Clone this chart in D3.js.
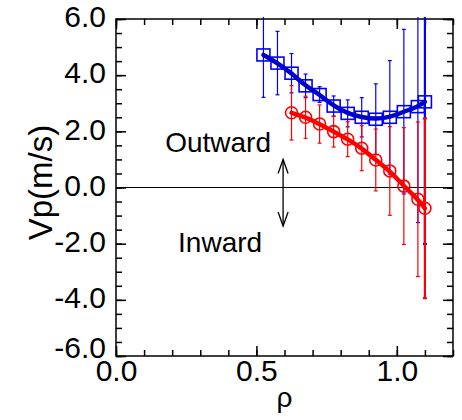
<!DOCTYPE html>
<html lang="en">
<head>
<meta charset="UTF-8">
<title>Vp profile</title>
<script src="https://cdnjs.cloudflare.com/ajax/libs/d3/7.8.5/d3.min.js"></script>
<style>
    body, html {
        margin: 0;
        padding: 0;
        background: #fff;
        overflow: hidden;
    }
    svg text {
        font-family: "Liberation Sans", Arial, sans-serif;
        fill: #000;
    }
</style>
</head>
<body>
<div id="chart"></div>
<script>
    // outward-shifted profile (blue squares)
    const blueX   = [0.525, 0.575, 0.625, 0.675, 0.725, 0.775, 0.825, 0.875, 0.925, 0.975, 1.025, 1.075, 1.10];
    const blueY   = [4.72, 4.43, 4.07, 3.62, 3.31, 2.90, 2.64, 2.50, 2.43, 2.50, 2.70, 2.88, 3.05];
    const blueErr = [1.51, 1.13, 0.70, 0.42, 0.28, 0.36, 0.48, 0.70, 1.26, 2.02, 2.93, 4.13, 5.06];

    // red circles
    const redX   = [0.625, 0.675, 0.725, 0.775, 0.825, 0.875, 0.925, 0.975, 1.025, 1.075, 1.10];
    const redY   = [2.66, 2.50, 2.26, 1.99, 1.72, 1.40, 0.98, 0.59, 0.05, -0.42, -0.74];
    const redErr = [0.97, 0.75, 0.68, 0.55, 0.62, 0.80, 1.10, 1.58, 2.08, 2.75, 3.20];

    const xMajor = [0.0, 0.5, 1.0];
    const yMajor = [-6, -4, -2, 0, 2, 4, 6];

    const width = 462, height = 420;
    const margin = {top: 19, right: 9, bottom: 64, left: 116};

    const x = d3.scaleLinear().domain([0, 1.2]).range([margin.left, width - margin.right]);
    const y = d3.scaleLinear().domain([-6, 6]).range([height - margin.bottom, margin.top]);

    const xMinor = d3.range(0, 1.2001, 0.1).map(v => +v.toFixed(2));
    const yMinor = d3.range(-6, 6.001, 0.5);

    const svg = d3.select("#chart").append("svg")
        .attr("width", width)
        .attr("height", height);

    svg.append("defs").append("clipPath").attr("id", "plot")
        .append("rect")
        .attr("x", x(0)).attr("y", y(6) - 2)
        .attr("width", x(1.2) - x(0)).attr("height", y(-6) - y(6) + 2);

    const fmt = d => d.toFixed(1);

    // axes, ticks pointing inward on all four sides
    function addAxis(axis, tx, ty) {
        const g = svg.append("g").attr("transform", `translate(${tx},${ty})`).call(axis);
        g.select(".domain").remove();
        g.selectAll("line").attr("stroke", "#000").attr("stroke-width", 1.5);
        return g;
    }

    const H = height - margin.bottom, W = width - margin.right;

    addAxis(d3.axisBottom(x).tickValues(xMinor).tickSize(-6).tickFormat(""), 0, H);
    const xAx = addAxis(d3.axisBottom(x).tickValues(xMajor).tickSizeInner(-10).tickSizeOuter(0)
        .tickPadding(4).tickFormat(fmt), 0, H);
    xAx.selectAll("text").style("font-size", "30px");

    addAxis(d3.axisTop(x).tickValues(xMinor).tickSize(-6).tickFormat(""), 0, margin.top);
    addAxis(d3.axisTop(x).tickValues(xMajor).tickSize(-10).tickFormat(""), 0, margin.top);

    addAxis(d3.axisLeft(y).tickValues(yMinor).tickSize(-6).tickFormat(""), margin.left, 0);
    const yAx = addAxis(d3.axisLeft(y).tickValues(yMajor).tickSizeInner(-10).tickSizeOuter(0)
        .tickPadding(10).tickFormat(fmt), margin.left, 0);
    yAx.selectAll("text")
        .style("font-size", "30px")
        .attr("dy", d => d === -6 ? "0.04em" : "0.26em");

    addAxis(d3.axisRight(y).tickValues(yMinor).tickSize(-6).tickFormat(""), W, 0);
    addAxis(d3.axisRight(y).tickValues(yMajor).tickSize(-10).tickFormat(""), W, 0);

    svg.append("rect")
        .attr("x", x(0)).attr("y", y(6))
        .attr("width", x(1.2) - x(0)).attr("height", y(-6) - y(6))
        .attr("fill", "none").attr("stroke", "#000").attr("stroke-width", 1.5);

    // zero line
    svg.append("line")
        .attr("x1", x(0)).attr("x2", x(1.2))
        .attr("y1", y(0)).attr("y2", y(0))
        .attr("stroke", "#000").attr("stroke-width", 1.2);

    // axis titles
    svg.append("text")
        .attr("transform", `translate(52,${(y(6) + y(-6)) / 2 - 5}) rotate(-90)`)
        .attr("text-anchor", "middle")
        .style("font-size", "33px")
        .text("Vp(m/s)");

    svg.append("text")
        .attr("x", (x(0) + x(1.2)) / 2)
        .attr("y", 407)
        .attr("text-anchor", "middle")
        .style("font-size", "28px")
        .text("ρ");

    // annotations
    svg.append("text").attr("x", x(0.175)).attr("y", y(1.26))
        .style("font-size", "28px").text("Outward");
    svg.append("text").attr("x", x(0.221)).attr("y", y(-2.3))
        .style("font-size", "28px").text("Inward");

    const ax = x(0.595), aTop = y(1.0), aBot = y(-1.37);
    const arrow = svg.append("g").attr("stroke", "#000").attr("stroke-width", 1.3).attr("fill", "none");
    arrow.append("line").attr("x1", ax).attr("x2", ax).attr("y1", aTop).attr("y2", aBot);
    arrow.append("path").attr("d", `M${ax - 5},${aTop + 14}L${ax},${aTop}L${ax + 5},${aTop + 14}`);
    arrow.append("path").attr("d", `M${ax - 5},${aBot - 14}L${ax},${aBot}L${ax + 5},${aBot - 14}`);

    // series
    function drawSeries(xs, ys, es, color, lineColor, marker) {
        const pts = xs.map((v, i) => ({x: v, y: ys[i], e: es[i]}));
        const g = svg.append("g").attr("clip-path", "url(#plot)");

        const bars = g.selectAll(".eb").data(pts).enter().append("g")
            .attr("stroke", color)
            .attr("stroke-width", (d, i) => i === pts.length - 1 ? 2.2 : 1.2);
        bars.append("line")
            .attr("x1", d => x(d.x)).attr("x2", d => x(d.x))
            .attr("y1", d => y(d.y - d.e)).attr("y2", d => y(d.y + d.e));
        bars.append("line")
            .attr("x1", d => x(d.x) - 2).attr("x2", d => x(d.x) + 2)
            .attr("y1", d => y(d.y - d.e)).attr("y2", d => y(d.y - d.e));
        bars.append("line")
            .attr("x1", d => x(d.x) - 2).attr("x2", d => x(d.x) + 2)
            .attr("y1", d => y(d.y + d.e)).attr("y2", d => y(d.y + d.e));

        if (marker === "square") {
            g.selectAll(".mk").data(pts).enter().append("rect")
                .attr("x", d => x(d.x) - 6.5).attr("y", d => y(d.y) - 6)
                .attr("width", 13).attr("height", 12)
                .attr("fill", "none").attr("stroke", color).attr("stroke-width", 1.6);
        } else {
            g.selectAll(".mk").data(pts).enter().append("circle")
                .attr("cx", d => x(d.x)).attr("cy", d => y(d.y)).attr("r", 6)
                .attr("fill", "none").attr("stroke", color).attr("stroke-width", 1.6);
        }

        const line = d3.line().x(d => x(d.x)).y(d => y(d.y)).curve(d3.curveBasis);
        g.append("path").datum(pts)
            .attr("d", line)
            .attr("fill", "none")
            .attr("stroke", lineColor)
            .attr("stroke-width", 4.5)
            .attr("stroke-linecap", "round");
    }

    drawSeries(blueX, blueY, blueErr, "#0000ff", "#0000cc", "square");
    drawSeries(redX, redY, redErr, "#ff0000", "#ff0000", "circle");
</script>
</body>
</html>
